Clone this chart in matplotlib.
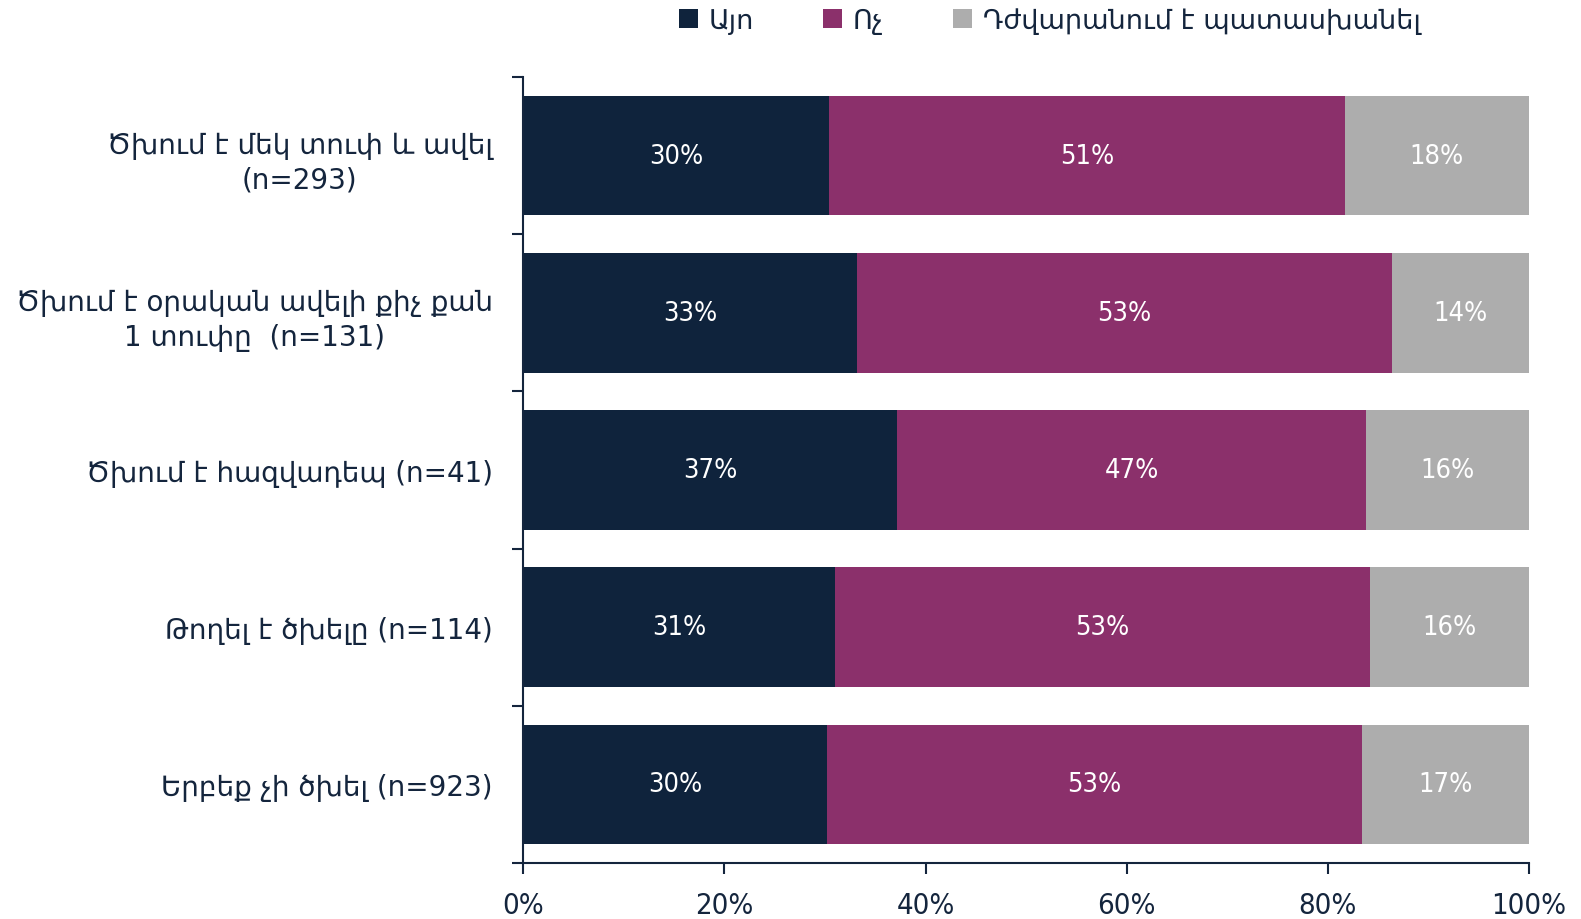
import matplotlib
matplotlib.use("Agg")
import matplotlib.pyplot as plt
from matplotlib.patches import Patch
from matplotlib.ticker import FixedLocator, PercentFormatter
import numpy as np

categories = [
    "Ծխում է մեկ տուփ և ավել\n(n=293)",
    "Ծխում է օրական ավելի քիչ քան\n1 տուփը  (n=131)",
    "Ծխում է հազվադեպ (n=41)",
    "Թողել է ծխելը (n=114)",
    "Երբեք չի ծխել (n=923)",
]
series_names = ["Այո", "Ոչ", "Դժվարանում է պատասխանել"]
yes_vals = [30.4, 33.2, 37.2, 31.0, 30.2]
no_vals = [51.3, 53.2, 46.6, 53.2, 53.2]
hard_vals = [18.3, 13.6, 16.2, 15.8, 16.6]
x_ticks = [0, 20, 40, 60, 80, 100]

colors = ["#0f233c", "#8b306b", "#adadad"]
text_color = "#14253d"

plt.rcParams["font.family"] = ["DejaVu Sans"]
fig = plt.figure(figsize=(15.81, 9.2), dpi=100)
ax = fig.add_axes([0.331, 0.061, 0.636, 0.854])

y = np.arange(len(categories))
left = np.zeros(len(categories))
for name, vals, c in zip(series_names, [yes_vals, no_vals, hard_vals], colors):
    vals = np.array(vals)
    ax.barh(y, vals, left=left, height=0.76, color=c, label=name)
    for yi, l, v in zip(y, left, vals):
        ax.text(l + v / 2, yi, f"{v:.0f}%", ha="center", va="center",
                color="white", fontsize=19.5, fontstretch="condensed")
    left += vals

ax.set_xlim(0, 100)
ax.set_ylim(len(categories) - 0.5, -0.5)
ax.xaxis.set_major_locator(FixedLocator(x_ticks))
ax.xaxis.set_major_formatter(PercentFormatter(decimals=0))
ax.set_yticks(y)
ax.set_yticklabels(categories, multialignment="center", linespacing=1.3)
ax.yaxis.set_minor_locator(FixedLocator(np.arange(-0.5, len(categories), 1.0)))
ax.tick_params(axis="y", which="major", length=0, pad=22, labelsize=20, labelcolor=text_color)
ax.tick_params(axis="y", which="minor", length=8, width=1.5, color=text_color, direction="out")
ax.tick_params(axis="x", which="major", length=8, width=1.5, color=text_color,
               labelsize=21, labelcolor=text_color, pad=12)
for lbl in ax.get_xticklabels():
    lbl.set_fontstretch("condensed")

for s in ["top", "right"]:
    ax.spines[s].set_visible(False)
for s in ["left", "bottom"]:
    ax.spines[s].set_color(text_color)
    ax.spines[s].set_linewidth(1.5)

handles = [Patch(facecolor=c, edgecolor="none") for c in colors]
leg = fig.legend(handles, series_names, loc="center", bbox_to_anchor=(0.664, 0.977),
                 ncol=3, frameon=False, fontsize=19.5, handlelength=0.7, handleheight=0.7,
                 handletextpad=0.4, columnspacing=2.55, labelcolor=text_color)

fig.savefig("out.png", dpi=100)
